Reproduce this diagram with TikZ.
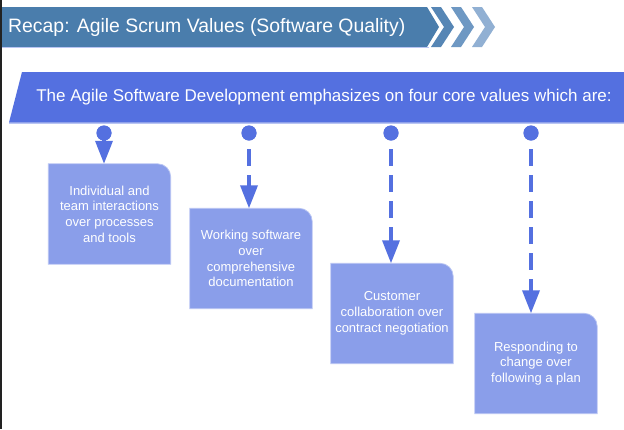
\documentclass[tikz,border=0pt]{standalone}
\usepackage{fontspec}
\setmainfont{Liberation Sans}
\usetikzlibrary{arrows.meta,backgrounds,calc}

\definecolor{headblue}{HTML}{4A7DAC}
\definecolor{chevA}{HTML}{5686B5}
\definecolor{chevB}{HTML}{6E98C3}
\definecolor{chevC}{HTML}{91B0D3}
\definecolor{bandblue}{HTML}{5470E0}
\definecolor{boxblue}{HTML}{8A9EEA}
\definecolor{boxedge}{HTML}{B9C5F3}
\definecolor{edgedark}{HTML}{222222}

\tikzset{
  valbox/.style={minimum width=122pt, minimum height=100pt, inner sep=0pt,
    align=center, text=white, font=\fontsize{13}{15.7}\selectfont},
  dot/.style={circle, fill=bandblue, minimum size=15pt, inner sep=0pt},
  link/.style={draw=bandblue, line width=3.5pt,
    -{Triangle[length=23pt,width=17pt]}},
  dashlink/.style={link, dash pattern=on 17pt off 9pt, dash phase=10pt},
}

\newcommand{\valshape}[1]{%
  \fill[boxblue, draw=boxedge, line width=0.8pt]
    (#1.south west) -- (#1.north west)
    [rounded corners=13pt] -- (#1.north east)
    [sharp corners] -- (#1.south east) -- cycle;}

\begin{document}
\begin{tikzpicture}[x=1pt, y=-1pt]
\useasboundingbox (0,0) rectangle (624,429);

% title ribbon with chevrons
\fill[headblue] (0,7) -- (427,7) -- (439,27) -- (427,47) -- (0,47) -- cycle;
\draw[boxedge, line width=0.8pt] (0,47.5) -- (429,47.5);
\foreach \ox/\col in {431/chevA, 451/chevB, 472/chevC}
  \fill[\col] (\ox,7) -- (\ox+10,7) -- (\ox+23,27) -- (\ox+10,47)
              -- (\ox,47) -- (\ox+13,27) -- cycle;
\node[text=white, font=\fontsize{19.4}{22}\selectfont, anchor=west,
  inner sep=0pt] (title) at (8,27.5)
  {Recap: Agile Scrum Values (Software Quality)};

% slanted band
\fill[bandblue] (22,72) -- (624,72) -- (624,122.5) -- (9,122.5) -- cycle;
\draw[boxedge, line width=0.8pt] (9,123.2) -- (624,123.2);
\node[text=white, font=\fontsize{17}{19}\selectfont]
  (lead) at (324,97.5)
  {The Agile Software Development emphasizes on four core values which are:};

% value boxes
\node[valbox] (v1) at (109.5,214)
  {Individual and\\team interactions\\over processes\\and tools};
\node[valbox] (v2) at (251,258.5)
  {Working software\\over\\comprehensive\\documentation};
\node[valbox] (v3) at (392,313.5)
  {Customer\\collaboration over\\contract negotiation};
\node[valbox] (v4) at (536,363.5)
  {Responding to\\change over\\following a plan};

\begin{scope}[on background layer]
  \fill[white] (0,0) rectangle (624,429);
  \valshape{v1}
  \valshape{v2}
  \valshape{v3}
  \valshape{v4}
\end{scope}

% anchor dots under the band
\node[dot] (c1) at (104,133) {};
\node[dot] (c2) at (249,133) {};
\node[dot] (c3) at (391,133) {};
\node[dot] (c4) at (531,133) {};

% connectors
\draw[link] (c1.center) -- (c1 |- v1.north);
\draw[dashlink] (c2.center) -- (c2 |- v2.north);
\draw[dashlink] (c3.center) -- (c3 |- v3.north);
\draw[dashlink] (c4.center) -- (c4 |- v4.north);
\foreach \c in {c1,c2,c3,c4}
  \fill[bandblue] (\c) circle (7.5pt);

% dark frame edge on the left
\fill[edgedark] (0,0) rectangle (2,429);
\end{tikzpicture}
\end{document}
